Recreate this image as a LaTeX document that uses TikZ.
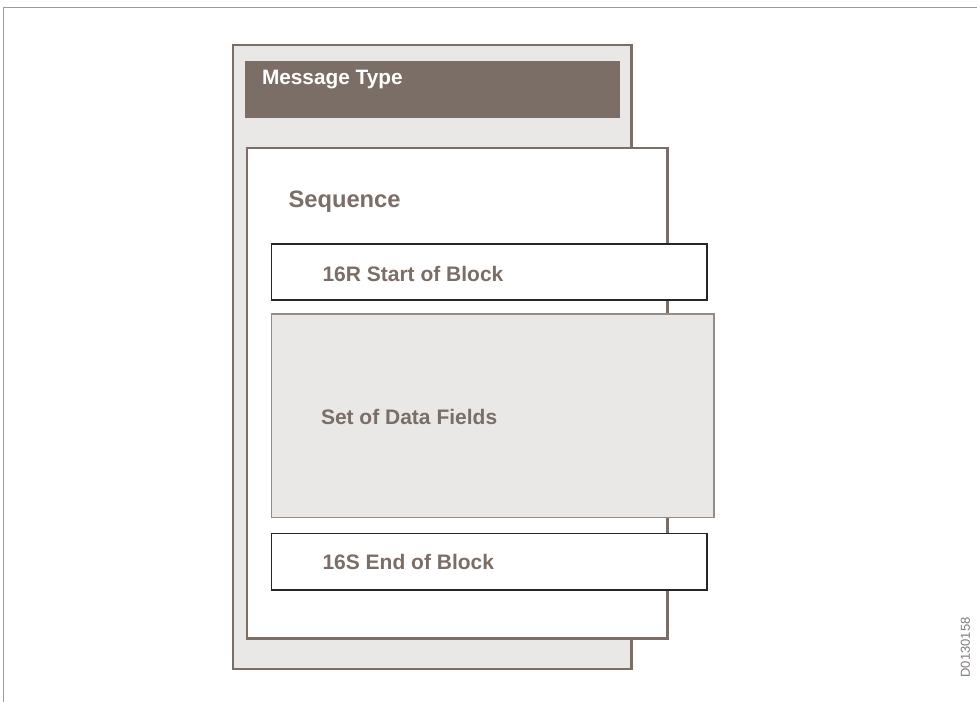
\documentclass[tikz,border=0pt]{standalone}
\usepackage{fontspec}
\setmainfont{Liberation Sans}

\definecolor{taupe}{RGB}{122,110,102}
\definecolor{paleGrey}{RGB}{234,232,230}
\definecolor{frameGrey}{RGB}{160,154,150}
\definecolor{fieldLine}{RGB}{150,140,134}

\tikzset{every picture/.style={line width=0.75pt}}
\tikzset{
  boxtext/.style={anchor=base west, inner sep=0pt, font=\bfseries\fontsize{15.75}{18}\selectfont, text=taupe},
}

\begin{document}
\begin{tikzpicture}[x=0.75pt,y=0.75pt,yscale=-1,xscale=1]
\useasboundingbox (0,0) rectangle (977,702);

%Straight Lines [frame]
\draw [color=frameGrey, line width=1.1] (3.5,702) -- (3.5,7.5) -- (977,7.5) ;

%Shape: Rectangle [message]
\draw [color=taupe, fill=paleGrey, line width=1.6] (233,45) -- (631.5,45) -- (631.5,669) -- (233,669) -- cycle ;
%Shape: Rectangle [message type bar]
\fill [taupe] (245,61) rectangle (620,118) ;
%Shape: Rectangle [sequence]
\draw [color=taupe, fill=white, line width=1.6] (247,148) -- (667.5,148) -- (667.5,638.5) -- (247,638.5) -- cycle ;
%Shape: Rectangle [16R]
\draw [color=black!85, fill=white, line width=1] (271.5,244) -- (707,244) -- (707,300) -- (271.5,300) -- cycle ;
%Shape: Rectangle [data fields]
\draw [color=fieldLine, fill=paleGrey, line width=1] (271.5,314) -- (714,314) -- (714,517.5) -- (271.5,517.5) -- cycle ;
%Shape: Rectangle [16S]
\draw [color=black!85, fill=white, line width=1] (271.5,533.5) -- (707,533.5) -- (707,590) -- (271.5,590) -- cycle ;

% Text Node
\draw (261.5,85) node (msgtype) [boxtext, text=white, font=\bfseries\fontsize{15.6}{18}\selectfont] {Message Type};
% Text Node
\draw (288,208) node (seq) [boxtext, font=\bfseries\fontsize{17.8}{20}\selectfont] {Sequence};
% Text Node
\draw (322,281) node (startblk) [boxtext] {16R Start of Block};
% Text Node
\draw (320.5,424) node (datafld) [boxtext] {Set of Data Fields};
% Text Node
\draw (322,569) node (endblk) [boxtext] {16S End of Block};
% Text Node
\draw (965.5,647.5) node (docid) [rotate=90, inner sep=0pt, font=\fontsize{9.75}{11}\selectfont, text=frameGrey!80!black] {D0130158};

\end{tikzpicture}
\end{document}
